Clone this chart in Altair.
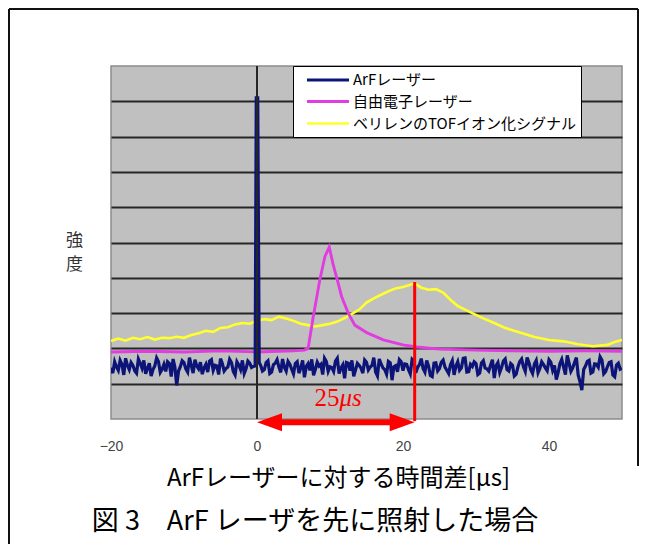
import altair as alt
import pandas as pd

# ---------------- data ----------------
series_names = ["ArFレーザー", "自由電子レーザー", "ベリレンのTOFイオン化シグナル"]
series_colors = ["#0c1478", "#e03ce0", "#ffff2e"]
series_widths = [3.2, 2.6, 3.6]

# ArF laser: noise on a 0.5 grid, intermediate samples on the quarter points, spike at 0
arf_step = 0.5
arf_left_start = -20.0
arf_left_y = [
    1.45, 1.62, 1.38, 1.55, 1.72, 1.40, 1.52, 1.30, 1.58, 1.66,
    1.44, 1.22, 1.50, 1.63, 1.41, 1.35, 1.57, 1.70, 0.95, 1.48,
    1.60, 1.33, 1.52, 1.68, 1.42, 1.27, 1.55, 1.64, 1.38, 1.50,
    1.71, 1.36, 1.47, 1.60, 1.25, 1.53, 1.66, 1.42, 1.58, 1.49,
]
arf_left_mid_start = -19.75
arf_left_mid_y = [
    1.30, 1.48, 1.66, 1.25, 1.52, 1.60, 1.37, 1.70, 1.44, 1.28,
    1.58, 1.40, 1.73, 1.32, 1.55, 1.62, 1.20, 1.47, 1.36, 1.65,
    1.42, 1.74, 1.30, 1.50, 1.61, 1.45, 1.33, 1.68, 1.52, 1.26,
    1.57, 1.43, 1.69, 1.35, 1.62, 1.40, 1.29, 1.64, 1.46, 1.55,
]
arf_spike_x = [-0.3, -0.1, 0.1, 0.3]
arf_spike_y = [1.50, 9.10, 9.10, 1.60]
arf_right_start = 0.5
arf_right_y = [
    1.52, 1.40, 1.65, 1.33, 1.58, 1.47, 1.70, 1.36, 1.55, 1.28,
    1.62, 1.45, 1.18, 1.57, 1.69, 1.41, 1.50, 1.26, 1.63, 1.48,
    1.35, 1.72, 1.44, 1.15, 1.58, 1.66, 1.39, 1.52, 1.30, 1.61,
    1.47, 1.74, 1.22, 1.56, 1.40, 1.63, 1.10, 1.51, 1.68, 1.37,
    1.55, 1.28, 1.64, 1.46, 1.71, 1.33, 1.50, 1.20, 1.59, 1.43,
    1.67, 1.38, 1.54, 1.25, 1.62, 1.45, 1.73, 1.34, 1.49, 1.57,
    1.30, 1.65, 1.42, 1.53, 1.16, 1.60, 1.46, 1.70, 1.36, 1.52,
    1.27, 1.63, 1.48, 1.74, 1.40, 1.56, 1.31, 1.62, 1.45, 1.68,
    1.38, 1.12, 1.57, 1.47, 1.80, 1.35, 1.60, 1.24, 0.82, 1.50,
    1.66, 1.33, 1.55, 1.76, 1.28, 1.48, 1.62, 1.20, 1.58, 1.44,
]
arf_right_mid_start = 0.75
arf_right_mid_y = [
    1.36, 1.60, 1.29, 1.54, 1.68, 1.32, 1.47, 1.63, 1.41, 1.57,
    1.30, 1.66, 1.49, 1.38, 1.24, 1.61, 1.55, 1.72, 1.35, 1.46,
    1.64, 1.29, 1.53, 1.60, 1.37, 1.21, 1.58, 1.44, 1.67, 1.39,
    1.52, 1.33, 1.70, 1.45, 1.27, 1.59, 1.48, 1.34, 1.62, 1.56,
    1.40, 1.69, 1.31, 1.54, 1.43, 1.66, 1.23, 1.58, 1.36, 1.61,
    1.47, 1.29, 1.65, 1.50, 1.38, 1.72, 1.33, 1.55, 1.62, 1.26,
    1.59, 1.44, 1.36, 1.68, 1.51, 1.32, 1.64, 1.40, 1.57, 1.22,
    1.48, 1.70, 1.35, 1.60, 1.29, 1.66, 1.43, 1.54, 1.37, 1.61,
    1.52, 1.31, 1.69, 1.26, 1.58, 1.45, 1.74, 1.05, 1.40, 1.63,
    1.30, 1.56, 1.47, 1.67, 1.34, 1.60, 1.25, 1.53, 1.41,
]

# Free-electron laser
fel_x = [-20, -15, -10, -5, 0, 3, 5, 6.5, 7.0, 7.7, 8.6, 9.3, 9.9, 10.4, 11.0,
         11.6, 12.5, 13.4, 15.1, 17.3, 20.0, 21.9, 25, 30, 35, 40, 45, 50]
fel_y = [1.90, 1.92, 1.90, 1.93, 1.90, 1.92, 1.93, 1.95, 2.00, 2.89, 3.94, 4.60,
         4.87, 4.40, 3.94, 3.46, 3.00, 2.66, 2.44, 2.24, 2.10, 2.04, 1.98, 1.95,
         1.93, 1.92, 1.93, 1.92]

# Perylene TOF ion signal
tof_x = [-20, -19, -18, -17, -16, -15, -14, -13, -12, -11, -10, -9, -8, -7, -6,
         -5, -4, -3, -2, -1, 0, 1, 2, 3, 4, 5, 6, 7, 8, 9, 10, 11, 12, 13, 14,
         15, 16, 17, 18, 19, 20, 21, 21.6, 22.5, 23.5, 24.5, 25.5, 26.5, 27.5,
         28.5, 29.5, 31, 32.5, 34, 36, 38, 40, 42, 44, 46, 48, 49, 50]
tof_y = [2.21, 2.28, 2.22, 2.30, 2.26, 2.32, 2.25, 2.30, 2.29, 2.33, 2.30, 2.38,
         2.43, 2.50, 2.47, 2.58, 2.60, 2.68, 2.72, 2.70, 2.78, 2.83, 2.80, 2.90,
         2.85, 2.78, 2.70, 2.66, 2.62, 2.66, 2.70, 2.76, 2.86, 2.98, 3.10, 3.30,
         3.42, 3.52, 3.62, 3.70, 3.74, 3.80, 3.84, 3.72, 3.66, 3.68, 3.58, 3.38,
         3.20, 3.10, 3.00, 2.85, 2.72, 2.58, 2.45, 2.32, 2.24, 2.20, 2.12, 2.06,
         2.10, 2.18, 2.24]

x_ticks = [-20, 0, 20, 40]
grid_values = [1, 2, 3, 4, 5, 6, 7, 8, 9]

# annotation
arrow_start = 0.0
arrow_end = 21.6
marker_top = 3.88
marker_bottom = -0.06
arrow_level = -0.09
label_x = 11.3
label_y = 0.38
label_num = "25"
label_unit = "μs"

x_title = "ArFレーザーに対する時間差[μs]"
y_title = ["強", "度"]
caption = "図 3　ArF レーザを先に照射した場合"

# ---------------- build table ----------------
rows = []
for x, y in zip(tof_x, tof_y):
    rows.append({"t": x, "v": y, "series": series_names[2]})
for x, y in zip(fel_x, fel_y):
    rows.append({"t": x, "v": y, "series": series_names[1]})
for i, y in enumerate(arf_left_y):
    rows.append({"t": arf_left_start + arf_step * i, "v": y, "series": series_names[0]})
for i, y in enumerate(arf_left_mid_y):
    rows.append({"t": arf_left_mid_start + arf_step * i, "v": y, "series": series_names[0]})
for x, y in zip(arf_spike_x, arf_spike_y):
    rows.append({"t": x, "v": y, "series": series_names[0]})
for i, y in enumerate(arf_right_y):
    rows.append({"t": arf_right_start + arf_step * i, "v": y, "series": series_names[0]})
for i, y in enumerate(arf_right_mid_y):
    rows.append({"t": arf_right_mid_start + arf_step * i, "v": y, "series": series_names[0]})
df = pd.DataFrame(rows)

W, H = 511, 353
xscale = alt.Scale(domain=[-20, 50], nice=False, zero=False)
yscale = alt.Scale(domain=[0, 10], nice=False, zero=False)

lines = alt.Chart(df).mark_line(clip=True).encode(
    x=alt.X("t:Q", scale=xscale,
            axis=alt.Axis(values=x_ticks, title=x_title, grid=False, ticks=False,
                          domain=False, labelFontSize=14, labelColor="#444",
                          labelFont="Liberation Sans", labelPadding=20,
                          labelFlush=False,
                          titleFont="Noto Sans CJK JP", titleFontSize=24,
                          titleFontWeight="normal", titleColor="#000",
                          titleX=227, titleY=59, titleBaseline="middle",
                          titleAlign="center", titleAnchor="start")),
    y=alt.Y("v:Q", scale=yscale,
            axis=alt.Axis(values=grid_values, labels=False, ticks=False, domain=False,
                          grid=True, gridColor="#262626", gridWidth=1.8,
                          title=y_title, titleAngle=0, titleX=-37, titleY=174,
                          titleFont="Noto Sans CJK JP", titleFontSize=17,
                          titleFontWeight="normal", titleLineHeight=24,
                          titleBaseline="middle", titleAlign="center",
                          titleAnchor="start", titleColor="#333")),
    color=alt.Color("series:N",
                    scale=alt.Scale(domain=series_names, range=series_colors),
                    legend=alt.Legend(title=None, orient="none", legendX=182, legendY=0,
                                      fillColor="white", strokeColor="black",
                                      padding=5, symbolType="M-1,0L5,0",
                                      symbolSize=196, symbolStrokeWidth=3,
                                      symbolOffset=7, labelOffset=30, labelLimit=500,
                                      labelFont="Noto Sans CJK JP", labelFontSize=15,
                                      labelColor="#000", rowPadding=5)),
    strokeWidth=alt.StrokeWidth("series:N",
                                scale=alt.Scale(domain=series_names, range=series_widths),
                                legend=None),
)

one = pd.DataFrame({"k": [0]})

yaxis_line = alt.Chart(pd.DataFrame({"t": [0.0], "lo": [0.0], "hi": [10.0]})).mark_rule(
    color="#262626", strokeWidth=2).encode(
    x=alt.X("t:Q", scale=xscale), y=alt.Y("lo:Q", scale=yscale), y2="hi:Q")

ann = pd.DataFrame({"xs": [arrow_start], "xe": [arrow_end], "top": [marker_top],
                    "bot": [marker_bottom], "lvl": [arrow_level],
                    "xs2": [arrow_start + 2.6], "xe2": [arrow_end - 2.6],
                    "lx": [label_x], "ly": [label_y]})

red_line = alt.Chart(ann).mark_rule(color="#ff0000", strokeWidth=3).encode(
    x=alt.X("xe:Q", scale=xscale), y=alt.Y("top:Q", scale=yscale), y2="bot:Q")
shaft = alt.Chart(ann).mark_rule(color="#ff0000", strokeWidth=6).encode(
    x=alt.X("xs2:Q", scale=xscale), x2="xe2:Q", y=alt.Y("lvl:Q", scale=yscale))
head_l = alt.Chart(ann).mark_point(shape="M0,0L2,-0.72L2,0.72Z", filled=True, size=625,
                                   color="#ff0000", opacity=1).encode(
    x=alt.X("xs:Q", scale=xscale), y=alt.Y("lvl:Q", scale=yscale))
head_r = alt.Chart(ann).mark_point(shape="M0,0L-2,-0.72L-2,0.72Z", filled=True, size=625,
                                   color="#ff0000", opacity=1).encode(
    x=alt.X("xe:Q", scale=xscale), y=alt.Y("lvl:Q", scale=yscale))
lab_num = alt.Chart(ann).mark_text(text=label_num, color="#ff0000", font="Liberation Serif",
                                   fontSize=25, align="right", baseline="alphabetic").encode(
    x=alt.X("lx:Q", scale=xscale), y=alt.Y("ly:Q", scale=yscale))
lab_unit = alt.Chart(ann).mark_text(text=label_unit, color="#ff0000", font="Liberation Serif",
                                    fontSize=25, fontStyle="italic", align="left",
                                    baseline="alphabetic").encode(
    x=alt.X("lx:Q", scale=xscale), y=alt.Y("ly:Q", scale=yscale))

frame_left = alt.Chart(one).mark_rule(color="#111", strokeWidth=2).encode(
    x=alt.value(-102), y=alt.value(-57), y2=alt.value(478))
frame_top = alt.Chart(one).mark_rule(color="#111", strokeWidth=2).encode(
    x=alt.value(-102), x2=alt.value(527), y=alt.value(-57))
frame_right = alt.Chart(one).mark_rule(color="#111", strokeWidth=2).encode(
    x=alt.value(527), y=alt.value(-57), y2=alt.value(400))

cap = alt.Chart(one).mark_text(font="Noto Sans CJK JP", fontSize=27, color="#000",
                               align="center", baseline="middle").encode(
    x=alt.value(204), y=alt.value(456), text=alt.value(caption))

chart = alt.layer(
    frame_left, frame_top, frame_right, lines, yaxis_line,
    red_line, shaft, head_l, head_r, lab_num, lab_unit, cap
).properties(width=W, height=H, padding=0, background="white").configure_view(
    fill="#c0c0c0", stroke="#8c8c8c", strokeWidth=1.5)

chart.save("out.html", embed_options={"renderer": "svg", "actions": False})
